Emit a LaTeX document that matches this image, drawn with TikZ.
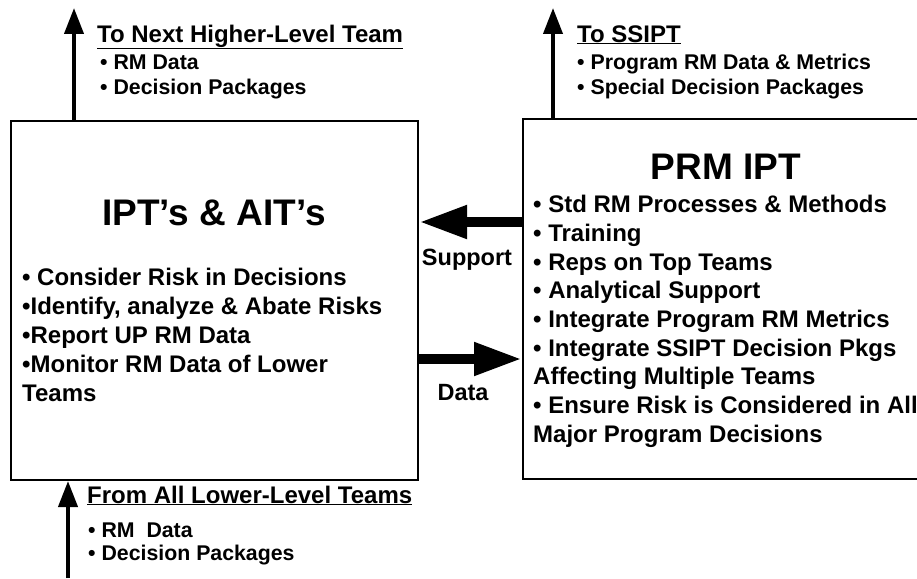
\documentclass[tikz,border=0pt]{standalone}
\usepackage{fontspec}
\setmainfont{Liberation Sans}
\usetikzlibrary{arrows.meta}
\begin{document}
\begin{tikzpicture}[x=1pt,y=-1pt,
  box/.style={draw,line width=2pt,inner sep=0pt},
  title/.style={anchor=base,inner sep=0pt,font=\fontsize{37}{40}\selectfont\bfseries},
  body/.style={anchor=base west,inner sep=0pt,font=\fontsize{24}{28}\selectfont\bfseries},
  head/.style={anchor=base west,inner sep=0pt,font=\fontsize{24}{28}\selectfont\bfseries},
  item/.style={anchor=base west,inner sep=0pt,font=\fontsize{21.3}{24}\selectfont\bfseries},
  lbl/.style={anchor=base,inner sep=0pt,font=\fontsize{23.5}{28}\selectfont\bfseries},
  thinarrow/.style={line width=4pt,-{Triangle[length=26pt,width=19pt]}},
  bigarrow/.style={line width=10.5pt,-{Triangle[length=48pt,width=31pt]}}
]
\useasboundingbox (0,0) rectangle (917,578);

% boxes
\node[box,minimum width=407pt,minimum height=359pt] (L) at (214.5,300.5) {};
\node[box,minimum width=402pt,minimum height=360pt] (R) at (724,299) {};

% titles
\node[title] (Lt) at (214,225) {IPT’s \& AIT’s};
\node[title] (Rt) at (726,179) {PRM IPT};

% left body
\node[body] (l1) at (22,285) {• Consider Risk in Decisions};
\node[body] (l2) at (22,314) {•Identify, analyze \& Abate Risks};
\node[body] (l3) at (22,343) {•Report UP RM Data};
\node[body] (l4) at (22,372) {•Monitor RM Data of Lower};
\node[body] (l5) at (22,401) {Teams};

% right body
\node[body] (r1) at (533,212) {• Std RM Processes \& Methods};
\node[body] (r2) at (533,241) {• Training};
\node[body] (r3) at (533,270) {• Reps on Top Teams};
\node[body] (r4) at (533,298) {• Analytical Support};
\node[body] (r5) at (533,327) {• Integrate Program RM Metrics};
\node[body] (r6) at (533,356) {• Integrate SSIPT Decision Pkgs};
\node[body] (r7) at (533,384) {Affecting Multiple Teams};
\node[body] (r8) at (533,413) {• Ensure Risk is Considered in All};
\node[body] (r9) at (533,442) {Major Program Decisions};

% top-left label
\node[head] (h1) at (97,42) {\underline{To Next Higher-Level Team}};
\node[item] (h1a) at (100,70) {• RM Data};
\node[item] (h1b) at (100,94) {• Decision Packages};

% top-right label
\node[head] (h2) at (577,42) {\underline{To SSIPT}};
\node[item] (h2a) at (577,70) {• Program RM Data \& Metrics};
\node[item] (h2b) at (577,94) {• Special Decision Packages};

% bottom label
\node[head] (h3) at (87,503) {\underline{From All Lower-Level Teams}};
\node[item] (h3a) at (88,537) {• RM\ \ Data};
\node[item] (h3b) at (88,560) {• Decision Packages};

% arrow labels
\node[lbl] (sup) at (467,265) {Support};
\node[lbl] (dat) at (463,400) {Data};

% free ends
\coordinate (up1) at (74,8);
\coordinate (up2) at (553,8);
\coordinate (low) at (68,578);

% connectors
\draw[thinarrow] (L.north -| up1) -- (up1);
\draw[thinarrow] (R.north -| up2) -- (up2);
\draw[thinarrow] (low) -- (L.south -| low);
\draw[bigarrow] (R.west |- 0,222) -- (L.east |- 0,222);
\draw[bigarrow] (L.east |- 0,359) -- (R.west |- 0,359);
\end{tikzpicture}
\end{document}
